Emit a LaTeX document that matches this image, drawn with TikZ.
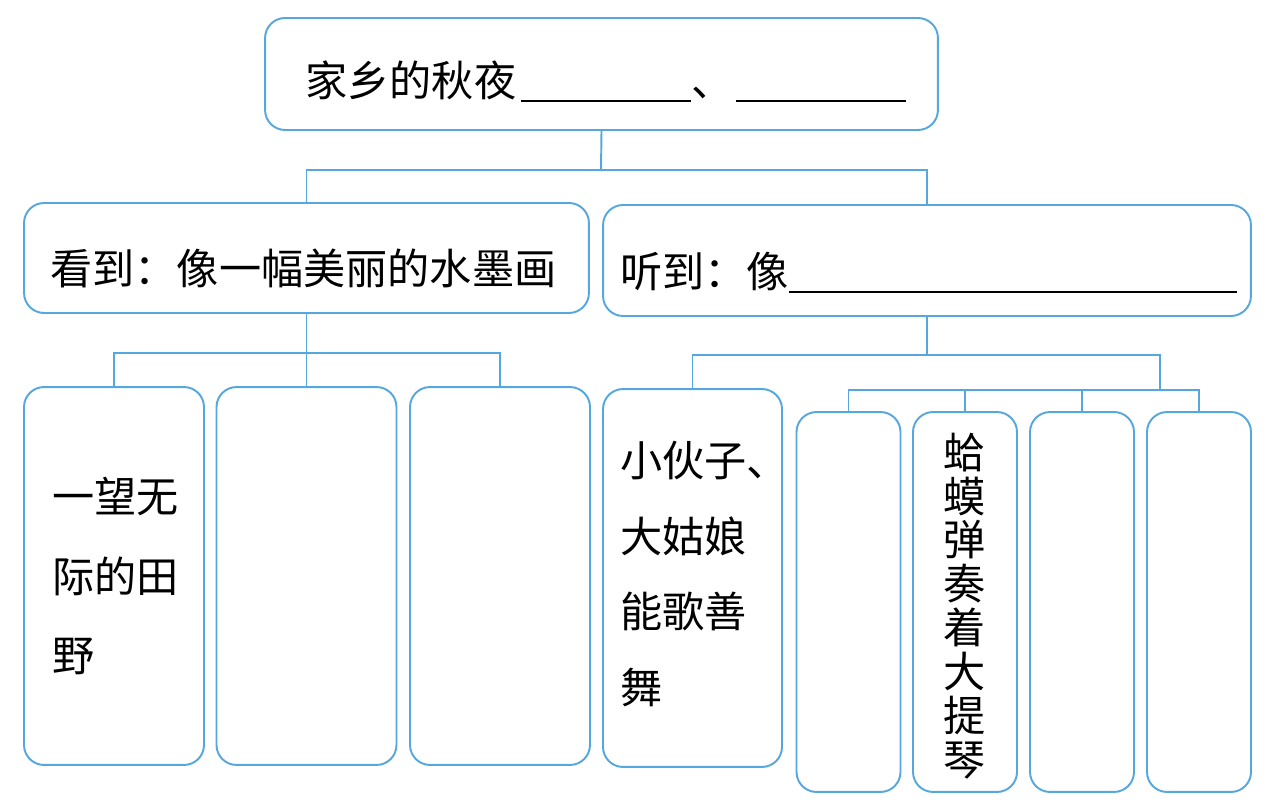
\documentclass[tikz,border=0pt]{standalone}
\usepackage{fontspec}
\setmainfont{Noto Sans CJK SC}
\usetikzlibrary{positioning}
\definecolor{lineblue}{RGB}{86,167,221}
\newcommand\blankline[1]{\rule[-0.12em]{#1}{1pt}}

\begin{document}
\begin{tikzpicture}[x=0.02cm, y=-0.02cm,
  box/.style={draw=lineblue, line width=1.1pt, rounded corners=0.4cm, inner sep=0pt},
  link/.style={draw=lineblue, line width=1.1pt},
  txt/.style={inner sep=0pt, font=\fontsize{24}{45}\selectfont, align=left}]
  \useasboundingbox (0,0) rectangle (1278,803);

  %%%%% top %%%%%
  \node[box, minimum width=13.46cm, minimum height=2.24cm] (top) at (601.5,74) {};
  \node[txt, anchor=base west] (toptext) at (305,97) {家乡的秋夜\hspace{0.1cm}\blankline{3.4cm}、\hspace{0.05cm}\blankline{3.4cm}};

  %%%%% second row %%%%%
  \node[box, minimum width=11.3cm, minimum height=2.2cm] (see) at (306.5,258) {};
  \node[box, minimum width=12.96cm, minimum height=2.22cm] (hear) at (927,260.5) {};
  \node[txt, anchor=base west] (seetext) at (50,285) {看到：像一幅美丽的水墨画};
  \node[txt, anchor=base west] (heartext) at (620,288) {听到：像\blankline{8.96cm}};

  \coordinate (topbar) at (601,170);
  \draw[link] (top.south) -- (topbar);
  \draw[link] (see.north) |- (topbar) -| (hear.north);

  %%%%% what is seen %%%%%
  \foreach \n/\x in {field/114, blankA/306.5, blankB/500}
    \node[box, minimum width=3.6cm, minimum height=7.56cm] (\n) at (\x,576) {};
  \node[txt, anchor=west] (fieldtext) at (52,576) {一望无\\际的田\\野};

  \coordinate (seebar) at (306.5,353);
  \draw[link] (see.south) -- (blankA.north);
  \draw[link] (field.north) |- (seebar) -| (blankB.north);

  %%%%% what is heard %%%%%
  \node[box, minimum width=3.58cm, minimum height=7.56cm] (dance) at (692.5,578) {};
  \foreach \n/\x in {blankC/848.5, frog/965, blankD/1082, blankE/1199}
    \node[box, minimum width=2.08cm, minimum height=7.6cm] (\n) at (\x,602) {};
  \node[txt, anchor=west, font=\fontsize{24}{43}\selectfont] (dancetext) at (620,574) {小伙子、\\大姑娘\\能歌善\\舞};
  \node[txt, align=center, font=\fontsize{24}{25}\selectfont] (frogtext) at (965,606) {蛤\\蟆\\弹\\奏\\着\\大\\提\\琴};

  \coordinate (hearbar) at (927,355);
  \coordinate (soundbar) at (1160,390);
  \draw[link] (hear.south) -- (hearbar);
  \draw[link] (dance.north) |- (hearbar) -| (soundbar);
  \draw[link] (blankC.north) |- (soundbar) -| (blankE.north);
  \draw[link] (frog.north) -- (frog.north |- soundbar);
  \draw[link] (blankD.north) -- (blankD.north |- soundbar);
\end{tikzpicture}
\end{document}
